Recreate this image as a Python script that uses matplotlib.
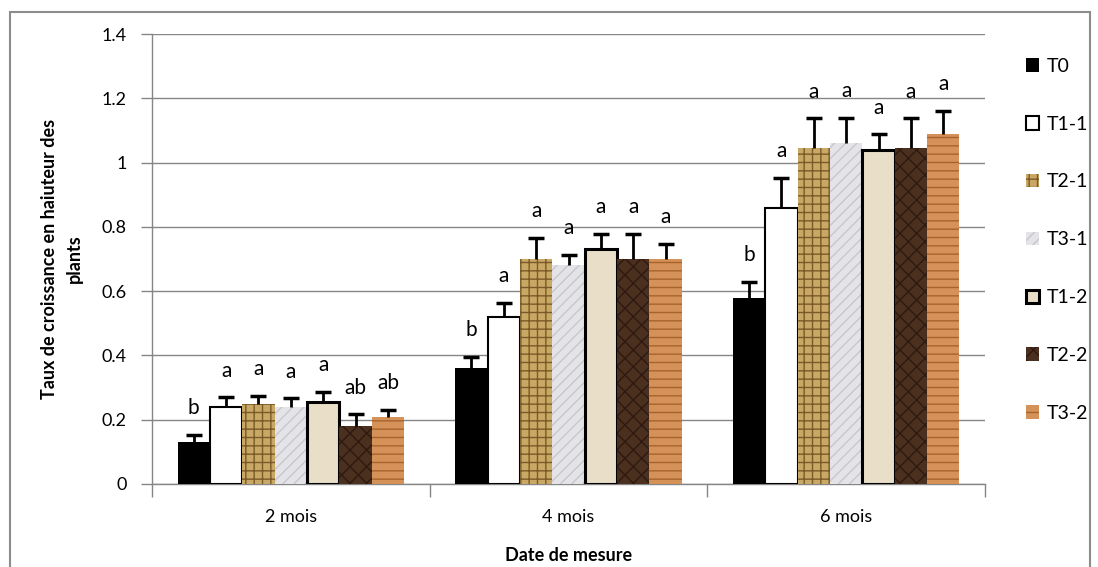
import numpy as np
import matplotlib
matplotlib.use("Agg")
import matplotlib.pyplot as plt
from matplotlib.patches import Rectangle

plt.rcParams['font.family'] = ['Lato', 'DejaVu Sans']

# données
dates = ["2 mois", "4 mois", "6 mois"]
traitements = ["T0", "T1-1", "T2-1", "T3-1", "T1-2", "T2-2", "T3-2"]
moyennes = {
    "T0":   [0.13, 0.36, 0.58],
    "T1-1": [0.24, 0.52, 0.86],
    "T2-1": [0.25, 0.70, 1.045],
    "T3-1": [0.24, 0.68, 1.06],
    "T1-2": [0.255, 0.73, 1.04],
    "T2-2": [0.18, 0.70, 1.045],
    "T3-2": [0.21, 0.70, 1.09],
}
erreurs = {
    "T0":   [0.024, 0.036, 0.048],
    "T1-1": [0.03, 0.043, 0.092],
    "T2-1": [0.024, 0.065, 0.093],
    "T3-1": [0.027, 0.034, 0.08],
    "T1-2": [0.031, 0.049, 0.048],
    "T2-2": [0.037, 0.078, 0.093],
    "T3-2": [0.021, 0.047, 0.071],
}
lettres = {
    "T0":   ["b", "b", "b"],
    "T1-1": ["a", "a", "a"],
    "T2-1": ["a", "a", "a"],
    "T3-1": ["a", "a", "a"],
    "T1-2": ["a", "a", "a"],
    "T2-2": ["ab", "a", "a"],
    "T3-2": ["ab", "a", "a"],
}

# style des barres (approximation des textures Excel)
styles = {
    "T0":   dict(facecolor="black", edgecolor="black", linewidth=0),
    "T1-1": dict(facecolor="white", edgecolor="black", linewidth=1.5),
    "T2-1": dict(facecolor="#c9a865", edgecolor="#7a5a28", linewidth=0, hatch="++"),
    "T3-1": dict(facecolor="#e4e4e8", edgecolor="#c8c8cc", linewidth=0, hatch="///"),
    "T1-2": dict(facecolor="#e9dfc8", edgecolor="black", linewidth=2.2),
    "T2-2": dict(facecolor="#4b2f1f", edgecolor="#2e1a10", linewidth=0, hatch="xx"),
    "T3-2": dict(facecolor="#d49158", edgecolor="#a8632c", linewidth=0, hatch="--"),
}

fig = plt.figure(figsize=(10.98, 5.67), dpi=100)
ax = fig.add_axes([152 / 1098, 83 / 567, 833 / 1098, 450 / 567])

x = np.arange(len(dates))
w = 0.1166
grid_col = "#868686"

for i, t in enumerate(traitements):
    pos = x + (i - 3) * w
    vals = np.array(moyennes[t])
    err = np.array(erreurs[t])
    ax.bar(pos, vals, width=w, label=t, zorder=3, **styles[t])
    # barres d'erreur positives seulement (comme Excel)
    ax.vlines(pos, vals, vals + err, color="black", linewidth=2, zorder=4)
    ax.plot(pos, vals + err, linestyle="none", marker="_", markersize=11,
            markeredgewidth=2.5, color="black", zorder=4)
    for p, v, e, l in zip(pos, vals, err, lettres[t]):
        ax.annotate(l, (p, v + e), xytext=(0, 12), textcoords="offset points",
                    ha="center", va="bottom", fontsize=15, zorder=5)

ax.set_xlim(-0.5, 2.5)
ax.set_ylim(0, 1.4)
ax.set_yticks(np.arange(0, 1.41, 0.2))
ax.set_yticklabels(["0", "0.2", "0.4", "0.6", "0.8", "1", "1.2", "1.4"])
ax.set_xticks(x)
ax.set_xticklabels(dates)
ax.set_xticks([-0.5, 0.5, 1.5, 2.5], minor=True)
ax.tick_params(axis="x", which="major", length=0, labelsize=13, pad=18)
ax.tick_params(axis="x", which="minor", length=9, color=grid_col, width=1)
ax.tick_params(axis="y", length=8, color=grid_col, width=1, labelsize=13, pad=10)

ax.grid(axis="y", color=grid_col, linewidth=1, zorder=0)
ax.set_axisbelow(True)
for s in ["top", "right"]:
    ax.spines[s].set_visible(False)
for s in ["left", "bottom"]:
    ax.spines[s].set_color(grid_col)
    ax.spines[s].set_linewidth(1)

ax.set_ylabel("Taux de croissance en haiuteur des\nplants", fontsize=13,
              fontweight="bold", labelpad=14, linespacing=1.55)
ax.set_xlabel("Date de mesure", fontsize=13, fontweight="bold", labelpad=16)

fig.legend(loc="upper left", bbox_to_anchor=(1018 / 1098, 1 - 50 / 567),
           frameon=False, fontsize=14, handlelength=0.7, handleheight=0.7,
           handletextpad=0.4, labelspacing=2.1, borderaxespad=0)

# cadre gris du graphique
fig.patches.append(Rectangle((10 / 1098, -0.05), 1080 / 1098, 1.05 - 12 / 567,
                             transform=fig.transFigure, fill=False,
                             edgecolor="#8c8c8c", linewidth=1.5))

fig.savefig("out.png", dpi=100)
